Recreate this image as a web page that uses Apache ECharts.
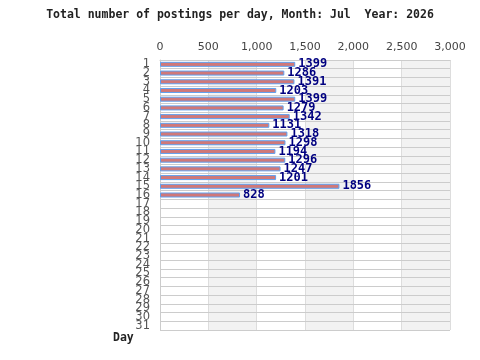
<!DOCTYPE html>
<html><head><meta charset="utf-8">
<script src="https://cdn.jsdelivr.net/npm/echarts@6/dist/echarts.min.js"></script>
<style>html,body{margin:0;padding:0;background:#fff}#c{width:480px;height:360px}</style>
</head><body><div id="c"></div>
<script>
const days = ['1','2','3','4','5','6','7','8','9','10','11','12','13','14','15','16','17','18','19','20','21','22','23','24','25','26','27','28','29','30','31'];
const postings = [1399,1286,1391,1203,1399,1279,1342,1131,1318,1298,1194,1296,1247,1201,1856,828];
const xTicks = [0,500,1000,1500,2000,2500,3000];
const titleText = 'Total number of postings per day, Month: Jul  Year: 2026';
const yName = 'Day';

const chart = echarts.init(document.getElementById('c'), null, {renderer:'canvas'});
chart.setOption({
  animation:false,
  backgroundColor:'#ffffff',
  title:{text:titleText,left:'center',top:4,textStyle:{fontFamily:'DejaVu Sans Mono',fontWeight:'bold',fontSize:11.5,color:'#222'}},
  grid:{left:160,right:30,top:60,bottom:30,containLabel:false},
  graphic:[{type:'text',left:113,top:332,style:{text:yName,font:'bold 11.5px "DejaVu Sans Mono"',fill:'#222'}}],
  xAxis:{type:'value',position:'top',min:xTicks[0],max:xTicks[xTicks.length-1],interval:500,z:0,
    axisLine:{show:true,lineStyle:{color:'#cccccc'}},axisTick:{show:false},
    axisLabel:{color:'#444',fontFamily:'DejaVu Sans',fontSize:11,margin:7},
    splitLine:{show:true,lineStyle:{color:'#dddddd'}},
    splitArea:{show:true,areaStyle:{color:['#ffffff','#f2f2f2']}}},
  yAxis:{type:'category',data:days,inverse:true,z:1,
    axisLine:{show:true,lineStyle:{color:'#cccccc'}},axisTick:{show:false},
    axisLabel:{color:'#555',fontFamily:'DejaVu Sans',fontSize:11.5,margin:10,interval:0,lineHeight:9},
    splitLine:{show:true,interval:0,lineStyle:{color:'#cccccc'}}},
  series:[{type:'bar',data:postings,barWidth:5,z:3,
    itemStyle:{color:'#d07878',borderColor:'#5fa0f0',borderWidth:1},
    label:{show:true,position:'right',distance:3,color:'#000080',fontFamily:'DejaVu Sans Mono',fontWeight:'bold',fontSize:12}}]
});
</script></body></html>
